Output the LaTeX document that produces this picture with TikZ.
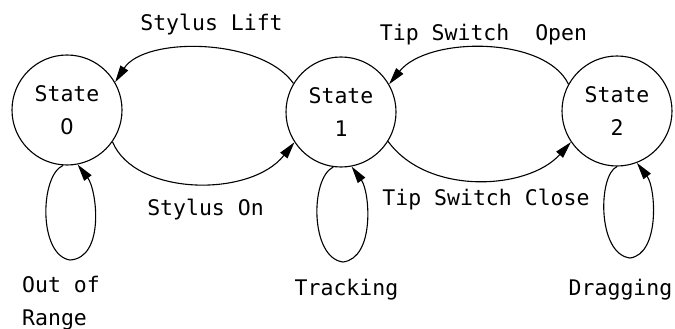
\documentclass[tikz,border=0pt]{standalone}
\usepackage{fontspec}
\newfontfamily\statefont{DejaVu Sans Mono}
\newfontfamily\digitfont{DejaVu Sans}
\usetikzlibrary{arrows.meta}
\tikzset{
  state/.style={draw, circle, line width=1.1pt, minimum size=110pt, inner sep=0pt,
    align=center, font=\statefont\fontsize{21.5}{33}\selectfont},
  lbl/.style={anchor=base, inner sep=0pt, font=\statefont\fontsize{21.5}{33}\selectfont},
  trans/.style={line width=1.1pt, -{Triangle[length=17pt,width=9pt]}},
}
\begin{document}
\begin{tikzpicture}[x=1pt,y=-1pt]
\path[use as bounding box] (0,0) rectangle (675,329);

% the three states
\node[state] (s0) at (67,110) {State\\{\digitfont 0}};
\node[state] (s1) at (341,112) {State\\1};
\node[state] (s2) at (617,111) {State\\2};

% transitions between states
\draw[trans] (s1.149) .. controls (262,38) and (145,36) .. (s0.30);
\draw[trans] (s0.-35) .. controls (135,196) and (250,198) .. (s1.-147);
\draw[trans] (s2.151) .. controls (545,36) and (428,36) .. (s1.30);
\draw[trans] (s1.-32) .. controls (428,196) and (528,190) .. (s2.-146);

% self loops
\coordinate (b0) at (70,260);
\coordinate (b1) at (343,262);
\coordinate (b2) at (630,258);
\draw[trans] (s0.-94) .. controls (40,175) and (38,255) .. (b0)
  .. controls (105,258) and (97,190) .. (s0.-79);
\draw[trans] (s1.-98) .. controls (310,178) and (310,258) .. (b1)
  .. controls (375,258) and (370,192) .. (s1.-79);
\draw[trans] (s2.-90) .. controls (598,175) and (597,254) .. (b2)
  .. controls (660,254) and (656,188) .. (s2.-69);

% transition labels
\node[lbl] (l01) at (211.5,31) {Stylus Lift};
\node[lbl] (l10) at (205.5,215) {Stylus On};
\node[lbl] (l21) at (483.5,41) {Tip Switch\ \ Open};
\node[lbl] (l12) at (486,205) {Tip Switch Close};

% loop labels
\node[lbl, anchor=base west] (r0a) at (22,292) {Out of};
\node[lbl, anchor=base west] (r0b) at (22,325) {Range};
\node[lbl] (r1) at (346.5,295) {Tracking};
\node[lbl] (r2) at (620.5,295) {Dragging};
\end{tikzpicture}
\end{document}
